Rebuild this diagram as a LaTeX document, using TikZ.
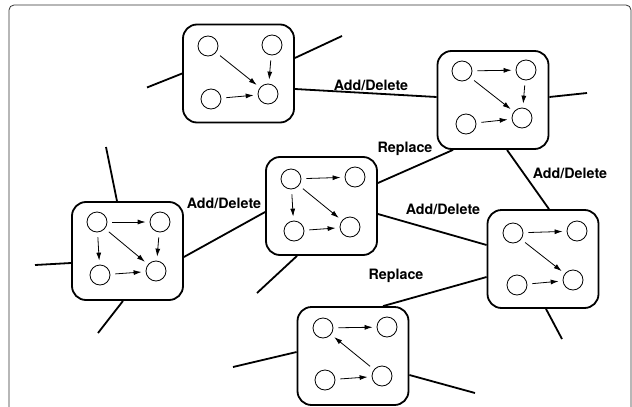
\documentclass[tikz,border=0pt]{standalone}
\usepackage{fontspec}
\setmainfont{TeX Gyre Heros}
\usetikzlibrary{arrows.meta}
\begin{document}
\begin{tikzpicture}[x=1pt, y=-1pt,
    every node/.style={inner sep=0pt},
    net/.style={draw, line width=1.8pt, rounded corners=14pt, minimum width=111pt, minimum height=98pt},
    vert/.style={draw, circle, line width=0.8pt, minimum size=20pt},
    edge/.style={line width=1.8pt},
    link/.style={-{Latex[length=8pt, width=5pt]}, line width=0.8pt, shorten >=4pt, shorten <=5pt},
    lbl/.style={font=\fontsize{14.3}{17}\selectfont\bfseries},
    frame/.style={draw=black!80, line width=0.8pt, rounded corners=5pt}]
\useasboundingbox (0,0) rectangle (632,407);
\clip (0,0) rectangle (632,407);
\draw [frame] (9,430) -- (9,5) -- (631,5) -- (631,430);

\node [net] (A) at (238.5,73.5) {};
\node [net] (B) at (493,100) {};
\node [net] (C) at (127.5,251) {};
\node [net] (D) at (321.5,206) {};
\node [net] (E) at (543,259) {};
\node [net] (F) at (353,356) {};

\node [vert] (a1) at (208,46) {};
\node [vert] (a2) at (272,45) {};
\node [vert] (a3) at (211,99) {};
\node [vert] (a4) at (268,94) {};

\node [vert] (b1) at (462,71) {};
\node [vert] (b2) at (526,70) {};
\node [vert] (b3) at (466,124) {};
\node [vert] (b4) at (522,118) {};

\node [vert] (c1) at (97,222) {};
\node [vert] (c2) at (160,222) {};
\node [vert] (c3) at (100,275) {};
\node [vert] (c4) at (156,271) {};

\node [vert] (d1) at (291,179) {};
\node [vert] (d2) at (355,177) {};
\node [vert] (d3) at (294,231) {};
\node [vert] (d4) at (350,227) {};

\node [vert] (e1) at (513,233) {};
\node [vert] (e2) at (577,231) {};
\node [vert] (e3) at (517,285) {};
\node [vert] (e4) at (573,280) {};

\node [vert] (f1) at (323,328) {};
\node [vert] (f2) at (387,327) {};
\node [vert] (f3) at (325,380) {};
\node [vert] (f4) at (382,376) {};

\draw [link] (a1) -- (a4);
\draw [link] (a2) -- (a4);
\draw [link] (a3) -- (a4);

\draw [link] (b1) -- (b2);
\draw [link] (b1) -- (b4);
\draw [link] (b2) -- (b4);
\draw [link] (b3) -- (b4);

\draw [link] (c1) -- (c2);
\draw [link] (c1) -- (c3);
\draw [link] (c1) -- (c4);
\draw [link] (c2) -- (c4);
\draw [link] (c3) -- (c4);

\draw [link] (d1) -- (d2);
\draw [link] (d1) -- (d3);
\draw [link] (d1) -- (d4);
\draw [link] (d3) -- (d4);

\draw [link] (e1) -- (e2);
\draw [link] (e1) -- (e4);
\draw [link] (e3) -- (e4);

\draw [link] (f1) -- (f2);
\draw [link] (f4) -- (f1);
\draw [link] (f3) -- (f4);

\coordinate (a-w) at (147,87.5);
\coordinate (a-ne) at (342,36);
\coordinate (b-e) at (587,93);
\coordinate (c-n) at (106,147);
\coordinate (c-w) at (35,265);
\coordinate (c-s) at (98,333);
\coordinate (d-s) at (257,293);
\coordinate (e-s) at (562,339);
\coordinate (f-w) at (233,367);
\coordinate (f-e) at (475,393);

\draw [edge] (a-w) -- (A.west);
\draw [edge] ([yshift=15.5pt]A.east) -- (a-ne);
\draw [edge] ([yshift=-15.5pt]A.east) -- ([yshift=3pt]B.west);
\draw [edge] ([yshift=3pt]B.east) -- (b-e);
\draw [edge] ([xshift=-40pt]B.south) -- ([yshift=23pt]D.east);
\draw [edge] ([xshift=14pt]B.south) -- ([xshift=6pt]E.north);
\draw [edge] (c-n) -- ([xshift=-10.5pt]C.north);
\draw [edge] (c-w) -- ([yshift=-12pt]C.west);
\draw [edge] ([xshift=-4.5pt]C.south) -- (c-s);
\draw [edge] ([yshift=-6pt]C.east) -- ([yshift=-6pt]D.west);
\draw [edge] ([yshift=-8pt]D.east) -- ([yshift=14pt]E.west);
\draw [edge] ([xshift=-24.5pt]D.south) -- (d-s);
\draw [edge] ([yshift=-18pt]E.west) -- ([xshift=30pt]F.north);
\draw [edge] ([xshift=3pt]E.south) -- (e-s);
\draw [edge] (f-w) -- ([yshift=4pt]F.west);
\draw [edge] ([yshift=-19pt]F.east) -- (f-e);

\node [lbl] (ab) at (371,85) {Add/Delete};
\node [lbl] (bd) at (405,149) {Replace};
\node [lbl] (be) at (570,173) {Add/Delete};
\node [lbl] (cd) at (224,203) {Add/Delete};
\node [lbl] (de) at (443,209) {Add/Delete};
\node [lbl] (ef) at (396,276) {Replace};
\end{tikzpicture}
\end{document}
